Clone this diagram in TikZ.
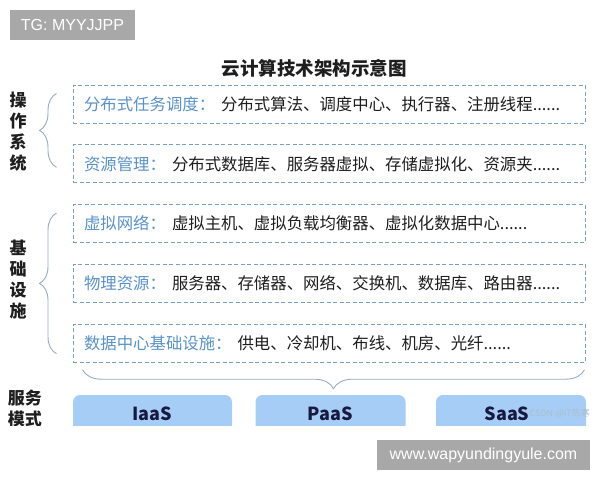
\documentclass[tikz,border=0pt]{standalone}
\usepackage{fontspec}
\setmainfont{Noto Sans CJK SC}
\newfontfamily\markfont{Liberation Sans}
\usetikzlibrary{calc,decorations.pathreplacing}
\definecolor{framecol}{RGB}{118,160,198}
\definecolor{keycol}{RGB}{88,146,200}
\definecolor{textcol}{RGB}{30,30,30}
\definecolor{bracecol}{RGB}{150,172,192}
\definecolor{servcol}{RGB}{166,205,246}
\definecolor{markcol}{RGB}{168,168,168}

\begin{document}
\begin{tikzpicture}[x=1pt,y=-1pt]
\tikzstyle{layer} = [draw=framecol, line width=1pt, dash pattern=on 4pt off 2.5pt,
            minimum width=512pt, minimum height=38pt, text width=490pt, inner xsep=11pt,
            align=left, text=textcol, font=\fontsize{16.4}{19}\selectfont];
\tikzstyle{side} = [align=center, text=textcol, font=\bfseries\fontsize{17}{21}\selectfont];
\tikzstyle{serv} = [fill=servcol, rounded corners=7pt, minimum width=150pt,
            minimum height=37pt, text=textcol!85!blue, font=\bfseries\fontsize{18}{20}\selectfont];
\tikzstyle{brace} = [draw=bracecol, line width=0.9pt, decorate];
\tikzstyle{stamp} = [fill=markcol, text=white, inner sep=0pt, font=\markfont\fontsize{16}{18}\selectfont];

    \useasboundingbox (0,0) rectangle (600,480);

    \node (title) at (314,68) [text=textcol, font=\bfseries\fontsize{18.5}{20}\selectfont] {云计算技术架构示意图};

    \foreach \i/\k/\t in {0/分布式任务调度/分布式算法、调度中心、执行器、注册线程,
                          1/资源管理/分布式数据库、服务器虚拟、存储虚拟化、资源夹,
                          2/虚拟网络/虚拟主机、虚拟负载均衡器、虚拟化数据中心,
                          3/物理资源/服务器、存储器、网络、交换机、数据库、路由器,
                          4/数据中心基础设施/供电、冷却机、布线、机房、光纤} {
        \node (l\i) at (329,104+59.8*\i) [layer] {\textcolor{keycol}{\k：}\hspace{6pt}\t......};
    }

    \node (os) at (18,132) [side] {操\\作\\系\\统};
    \node (infra) at (18,280) [side] {基\\础\\设\\施};

    \draw[brace, decoration={brace, amplitude=17pt}]
        ($(l1.south west)+(-16,-16)$) -- ($(l0.north west)+(-16,9)$);
    \draw[brace, decoration={brace, amplitude=17pt}]
        ($(l4.south west)+(-16,-9)$) -- ($(l2.north west)+(-16,9)$);
    \draw[brace, decoration={brace, amplitude=19pt, mirror}]
        ($(l4.south west)+(10,7)$) -- ($(l4.south east)+(-1,7)$);

    \begin{scope}
        \clip (0,0) rectangle (600,425);
        \node (iaas) at (152.5,413.5) [serv, minimum width=159pt] {IaaS};
        \node (paas) at (330.5,413.5) [serv] {PaaS};
        \node (saas) at (511,413.5) [serv] {\hspace{-8pt}SaaS};
        \node (model) at (25,409) [side] {服务\\模式};
    \end{scope}

    \node (csdn) [anchor=east, inner sep=0pt, text=bracecol!80!white, font=\fontsize{9}{10}\selectfont]
        at (590,413) {CSDN @IT陈寒};

    \node (tg) at (72.5,25) [stamp, minimum width=125pt, minimum height=30pt] {TG: MYYJJPP};
    \node (url) at (483.5,455) [stamp, minimum width=213pt, minimum height=30pt] {www.wapyundingyule.com};

\end{tikzpicture}
\end{document}
